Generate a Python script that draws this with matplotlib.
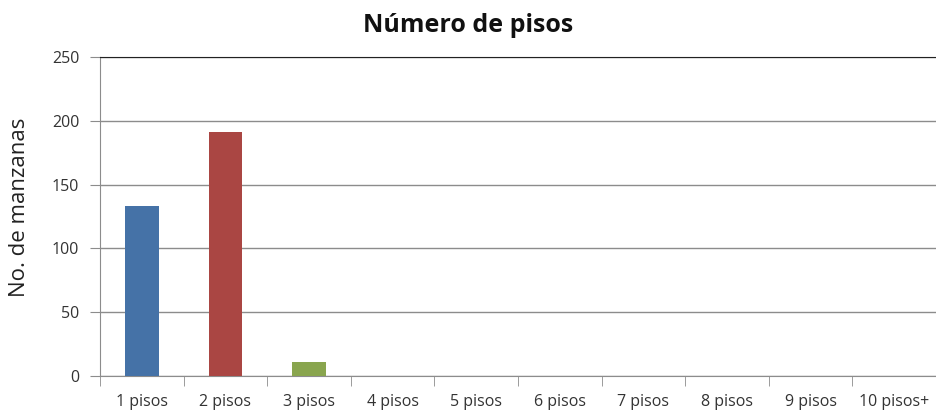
import numpy as np
import matplotlib
matplotlib.use("Agg")
import matplotlib.pyplot as plt

plt.rcParams['font.family'] = ['Open Sans', 'DejaVu Sans']

categorias = ["1 pisos", "2 pisos", "3 pisos", "4 pisos", "5 pisos",
              "6 pisos", "7 pisos", "8 pisos", "9 pisos", "10 pisos+"]
manzanas = [133, 191, 11, 0, 0, 0, 0, 0, 0, 0]
colores = ["#4572A7", "#AA4643", "#89A54E"]

fig = plt.figure(figsize=(9.36, 4.16), dpi=100)
ax = fig.add_axes([100/936, 40/416, 836/936, 319/416])

x = np.arange(len(categorias))
bar_cols = [colores[i] if i < len(colores) else colores[0] for i in range(len(categorias))]
ax.bar(x, manzanas, width=0.4, color=bar_cols, zorder=3)

ax.set_xlim(-0.5, len(categorias) - 0.5)
ax.set_ylim(0, 250)
ax.set_yticks(range(0, 251, 50))
ax.yaxis.grid(True, color="#8c8c8c", linewidth=1.0, zorder=0)
ax.set_xticks(x)
ax.set_xticklabels(categorias, fontsize=11.5, color="#333333")
ax.tick_params(axis='x', which='major', length=0, pad=13)
ax.set_xticks(np.arange(-0.5, len(categorias), 1), minor=True)
ax.tick_params(axis='x', which='minor', length=7, color="#8c8c8c", direction='out')
ax.tick_params(axis='y', length=7, color="#8c8c8c", labelsize=11.5, labelcolor="#333333", pad=8)

ax.spines['right'].set_visible(False)
ax.spines['top'].set_color("#222222")
ax.spines['left'].set_color("#8c8c8c")
ax.spines['bottom'].set_color("#8c8c8c")

fig.text(20/936, (416 - 207)/416, "No. de manzanas", rotation=90,
         ha='center', va='center', fontsize=16, color="#222222")
fig.text(0.5, (416 - 25)/416, "Número de pisos", ha='center', va='center',
         fontsize=18, fontweight='bold', color="#111111")

fig.savefig("out.png", dpi=100)
